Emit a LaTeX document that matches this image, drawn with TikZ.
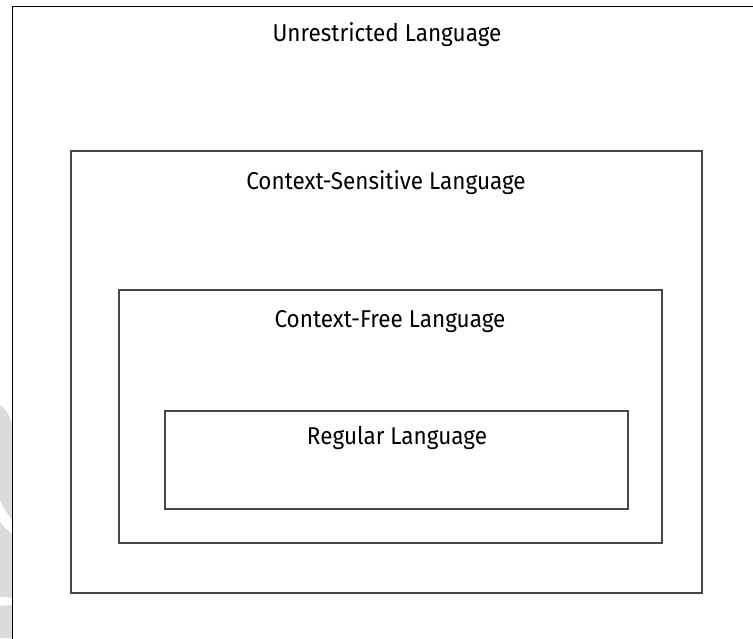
\documentclass[tikz,border=0pt]{standalone}
\usepackage{fontspec}
\setmainfont{Fira Sans}
\begin{document}
\begin{tikzpicture}[x=1pt,y=-1pt,
  outerbox/.style={draw=black,line width=1.3pt},
  setbox/.style={draw=black!72,line width=1.1pt},
  setlabel/.style={font=\fontsize{22.5}{26}\selectfont,text=black,inner sep=0pt,anchor=center,yscale=1.08}]
  \useasboundingbox (0,0) rectangle (753,638);
  \clip (0,0) rectangle (753,638);
  % faint grey shapes at the left margin
  \fill[black!14] (0,405) .. controls (8,410) and (12,420) .. (12,430) -- (12,520)
        .. controls (6,512) and (2,505) .. (0,500) -- cycle;
  \fill[black!14] (0,522) .. controls (5,528) and (9,532) .. (12,534) -- (12,598)
        .. controls (7,597) and (3,597) .. (0,597) -- cycle;
  \fill[black!14] (0,606) -- (12,605) -- (12,638) -- (0,638) -- cycle;
  % nested language classes
  \draw[outerbox] (12.5,6.5) rectangle (770,660);
  \draw[setbox] (71,151) rectangle (702,593);
  \draw[setbox] (119,290) rectangle (662,543);
  \draw[setbox] (165,411) rectangle (628,509);
  \node[setlabel] (unr) at (387,35) {Unrestricted Language};
  \node[setlabel] (cs)  at (386,183) {Context-Sensitive Language};
  \node[setlabel] (cf)  at (390,322) {Context-Free Language};
  \node[setlabel] (reg) at (397,438) {Regular Language};
\end{tikzpicture}
\end{document}
